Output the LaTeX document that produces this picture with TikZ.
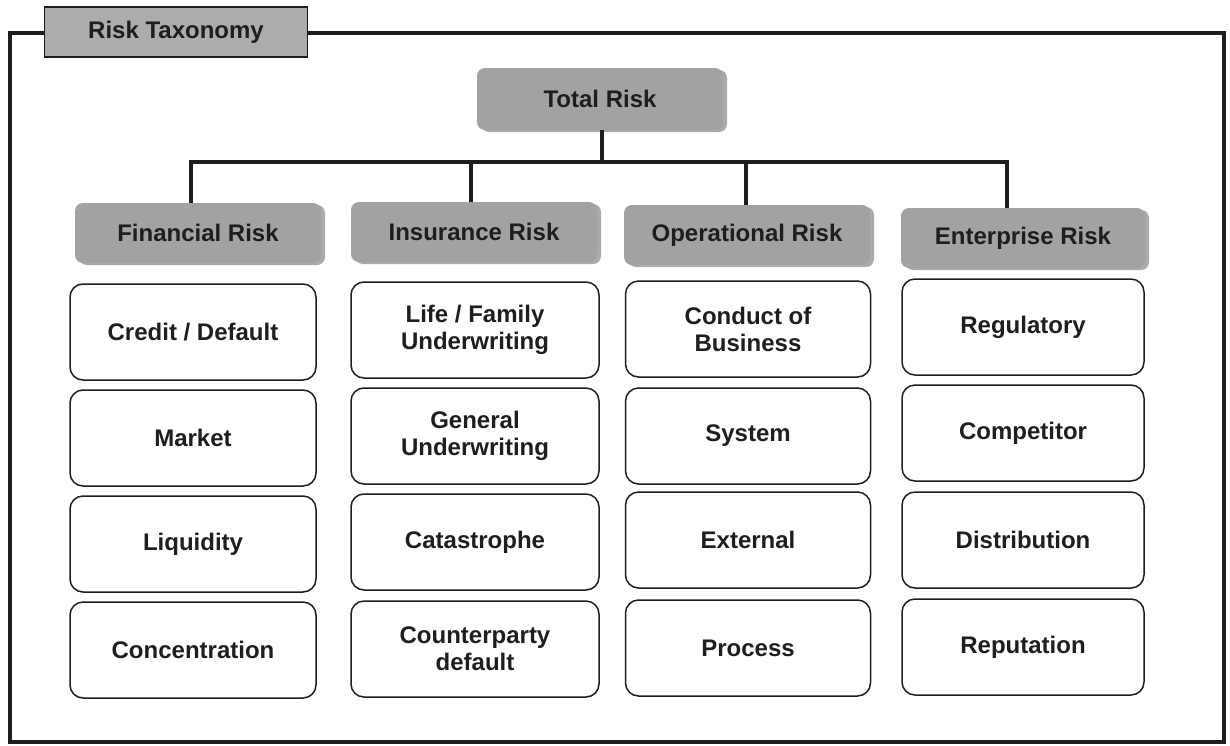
\documentclass[tikz,border=0pt]{standalone}
\usepackage{fontspec}
\setmainfont{Liberation Sans}
\usetikzlibrary{shadows}
\definecolor{catgray}{RGB}{162,162,162}
\definecolor{labgray}{RGB}{172,172,172}
\definecolor{ink}{RGB}{30,30,30}
\begin{document}
\begin{tikzpicture}[x=1pt,y=-1pt,
  catbox/.style={fill=catgray, rounded corners=8pt, minimum width=246pt, minimum height=60pt,
    inner sep=0pt, text=ink, font=\bfseries\fontsize{24}{28}\selectfont,
    drop shadow={shadow xshift=4pt, shadow yshift=-2pt, fill=black!60, opacity=.55}},
  leaf/.style={draw=ink, line width=1.5pt, rounded corners=13pt, minimum width=246pt,
    minimum height=96pt, inner sep=0pt, align=center, text=ink,
    font=\bfseries\fontsize{24}{27}\selectfont},
  labelbox/.style={draw=ink, line width=1.5pt, fill=labgray, minimum width=263pt,
    minimum height=50pt, inner sep=0pt, text=ink, font=\bfseries\fontsize{24}{28}\selectfont},
  conn/.style={line width=4pt, draw=ink}]
\useasboundingbox (0,0) rectangle (1230,745);
\fill[white] (0,0) rectangle (1230,745);

% outer frame
\draw[line width=3.5pt, ink] (10,33) rectangle (1224,742);
\node[labelbox] (title) at (176,32) {Risk Taxonomy};

% top level
\node[catbox, minimum height=62pt] (total) at (600,99) {Total Risk};

% categories
\node[catbox] (fin) at (198,233) {Financial Risk};
\node[catbox] (ins) at (474,232) {Insurance Risk};
\node[catbox] (ops) at (747,235) {Operational Risk};
\node[catbox, minimum width=244pt] (ent) at (1023,238) {Enterprise Risk};

% connectors
\coordinate (bus) at (602,162);
\draw[conn] ([xshift=2pt]total.south) -- ([xshift=2pt]total.south |- bus);
\draw[conn] ([xshift=-7pt]fin.north) -- ([xshift=-7pt]fin.north |- bus)
  -- ([xshift=-16pt]ent.north |- bus) -- ([xshift=-16pt]ent.north);
\draw[conn] ([xshift=-3pt]ins.north |- bus) -- ([xshift=-3pt]ins.north);
\draw[conn] ([xshift=-1pt]ops.north |- bus) -- ([xshift=-1pt]ops.north);

% Financial leaves
\node[leaf] (f1) at (193,332) {Credit / Default};
\node[leaf] (f2) at (193,438) {Market};
\node[leaf] (f3) at (193,544) {Liquidity};
\node[leaf] (f4) at (193,650) {Concentration};

% Insurance leaves
\node[leaf, minimum width=248pt] (i1) at (475,330) {Life / Family\\Underwriting};
\node[leaf, minimum width=248pt] (i2) at (475,436) {General\\Underwriting};
\node[leaf, minimum width=248pt] (i3) at (475,542) {Catastrophe};
\node[leaf, minimum width=248pt] (i4) at (475,649) {Counterparty\\default};

% Operational leaves
\node[leaf, minimum width=245pt] (o1) at (748,329) {Conduct of\\Business};
\node[leaf, minimum width=245pt] (o2) at (748,436) {System};
\node[leaf, minimum width=245pt] (o3) at (748,540) {External};
\node[leaf, minimum width=245pt] (o4) at (748,648) {Process};

% Enterprise leaves
\node[leaf, minimum width=242pt] (e1) at (1023,327) {Regulatory};
\node[leaf, minimum width=242pt] (e2) at (1023,433) {Competitor};
\node[leaf, minimum width=242pt] (e3) at (1023,540) {Distribution};
\node[leaf, minimum width=242pt] (e4) at (1023,647) {Reputation};
\end{tikzpicture}
\end{document}
